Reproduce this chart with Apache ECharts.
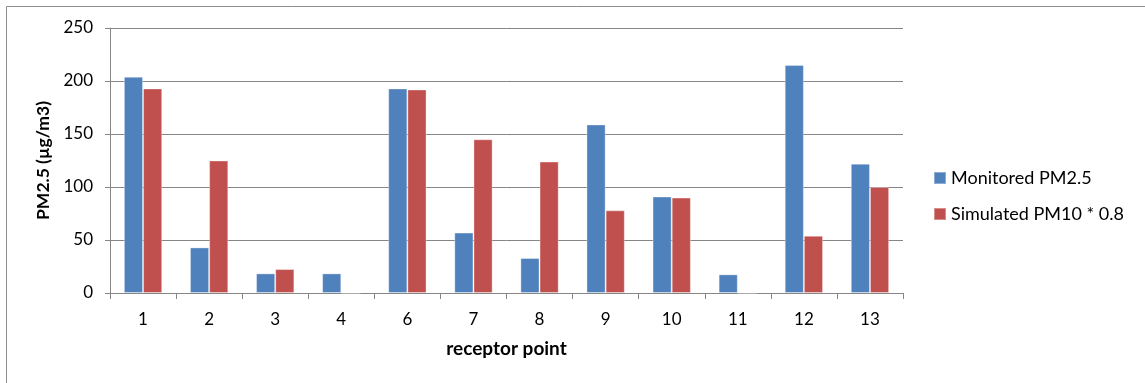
<!DOCTYPE html>
<html>
<head>
<meta charset="utf-8">
<script src="https://cdn.jsdelivr.net/npm/echarts@6/dist/echarts.min.js"></script>
<style>
  html, body { margin: 0; padding: 0; background: #fff; }
  #chart { width: 1145px; height: 383px; }
</style>
</head>
<body>
<div id="chart"></div>
<script>
// Receptor points and concentrations (µg/m3)
const receptors = ['1', '2', '3', '4', '6', '7', '8', '9', '10', '11', '12', '13'];
const monitoredPM25 = [204, 43, 18.5, 18.5, 193, 57, 33, 159, 91, 17.6, 215, 122];
const simulatedPM10x08 = [193, 125, 22.6, 0, 192, 145, 124, 78, 90, 0, 54, 100];
const yTicks = { min: 0, max: 250, interval: 50 };

const FONT = 'Lato, "Open Sans", sans-serif';

const chart = echarts.init(document.getElementById('chart'), null, { renderer: 'canvas' });

chart.setOption({
  animation: false,
  textStyle: { fontFamily: FONT },
  graphic: [{
    type: 'rect',
    shape: { x: 6.5, y: 6.5, width: 1160, height: 400 },
    style: { fill: 'none', stroke: '#8c8c8c', lineWidth: 1 },
    silent: true
  }],
  grid: { left: 110, right: 242, top: 28, bottom: 90 },
  legend: {
    orient: 'vertical',
    left: 933,
    top: 169,
    padding: 0,
    itemWidth: 12,
    itemHeight: 12,
    itemGap: 18,
    icon: 'rect',
    textStyle: { fontSize: 18, color: '#000', fontFamily: FONT, padding: [0, 0, 0, 0] },
    data: ['Monitored PM2.5', 'Simulated PM10 * 0.8']
  },
  xAxis: {
    type: 'category',
    data: receptors,
    name: 'receptor point',
    nameLocation: 'middle',
    nameGap: 46,
    nameTextStyle: { fontSize: 19, fontWeight: 'bold', color: '#000', fontFamily: FONT },
    axisLine: { lineStyle: { color: '#868686', width: 1 } },
    axisTick: { show: true, length: 6, alignWithLabel: false, lineStyle: { color: '#868686' } },
    axisLabel: { fontSize: 17, color: '#000', margin: 18, fontFamily: FONT }
  },
  yAxis: {
    type: 'value',
    min: yTicks.min,
    max: yTicks.max,
    interval: yTicks.interval,
    name: 'PM2.5 (µg/m3)',
    nameLocation: 'middle',
    nameGap: 56,
    nameTextStyle: { fontSize: 17.5, fontWeight: 'bold', color: '#000', fontFamily: FONT },
    axisLine: { show: true, lineStyle: { color: '#868686', width: 1 } },
    axisTick: { show: true, length: 5, lineStyle: { color: '#868686' } },
    axisLabel: { fontSize: 17, color: '#000', margin: 17, fontFamily: FONT },
    splitLine: { show: true, lineStyle: { color: '#868686', width: 1 } }
  },
  series: [
    {
      name: 'Monitored PM2.5',
      type: 'bar',
      data: monitoredPM25,
      barGap: '0%',
      barCategoryGap: '42%',
      itemStyle: { color: '#4F81BD', borderColor: 'rgba(255,255,255,0.35)', borderWidth: 1 }
    },
    {
      name: 'Simulated PM10 * 0.8',
      type: 'bar',
      data: simulatedPM10x08,
      barGap: '0%',
      barCategoryGap: '42%',
      itemStyle: { color: '#C0504D', borderColor: 'rgba(255,255,255,0.35)', borderWidth: 1 }
    }
  ]
});
</script>
</body>
</html>
